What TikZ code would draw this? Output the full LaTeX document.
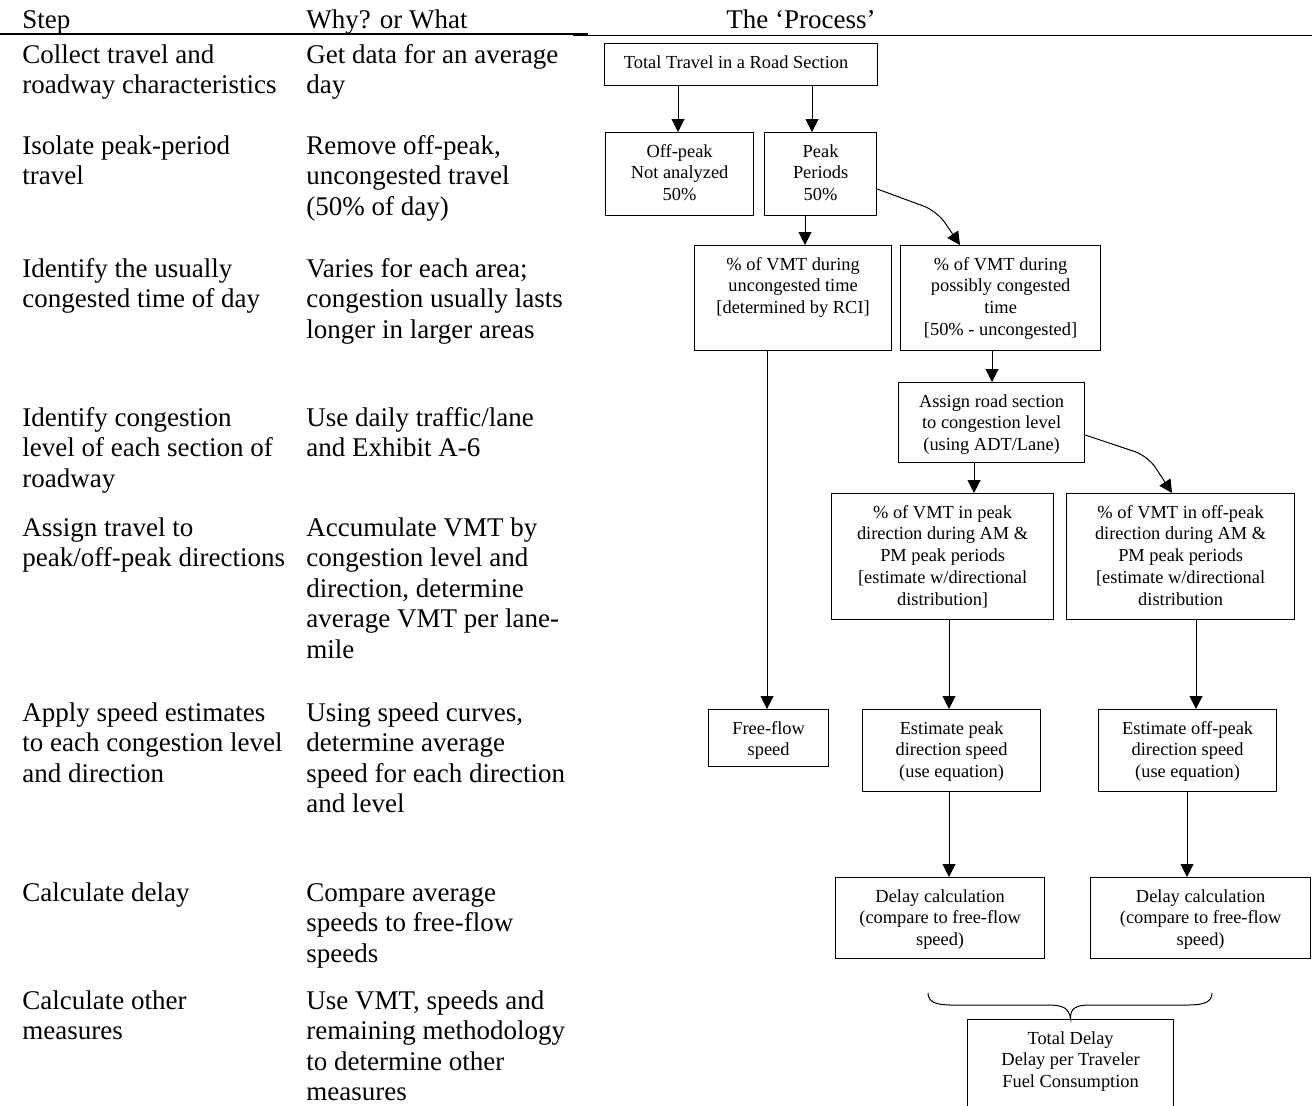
\documentclass[tikz,border=0pt]{standalone}
\usepackage{fontspec}
\setmainfont{Liberation Serif}
\usetikzlibrary{arrows.meta,calc}
\newcommand\bfnt{\fontsize{9.2}{10.85}\selectfont}
\newcommand\tfnt{\fontsize{13.5}{15.3}\selectfont}
\newcommand\bxt[3]{\begin{minipage}[c][#2][t]{#1}\centering\bfnt\rule{0pt}{12.3pt}#3\end{minipage}}
\newcommand\ltx[1]{\begin{minipage}[t]{150pt}\raggedright\tfnt #1\end{minipage}}
\tikzset{
  bx/.style={draw, line width=0.6pt, inner sep=0pt, anchor=north west},
  lt/.style={inner sep=0pt, anchor=base west},
  arr/.style={line width=0.5pt, -{Triangle[length=6.5pt,width=6.5pt]}},
  ln/.style={line width=0.5pt}
}
\begin{document}
\begin{tikzpicture}[x=0.5pt,y=-0.5pt]
\useasboundingbox (0,0) rectangle (1312,1105);
\clip (0,0) rectangle (1312,1105);
% header
\node[lt] (h1) at (22,28) {\tfnt Step};
\node[lt] (h2) at (306,28) {\tfnt Why? or What};
\node[inner sep=0pt, anchor=base] (h3) at (801,28) {\tfnt The ‘Process’};
\draw[line width=1pt] (0,34) -- (588,34);
\draw[line width=0.75pt] (573,35.5) -- (1312,35.5);
% left column
\node[lt] (s1) at (22,63) {\ltx{Collect travel and\\roadway characteristics}};
\node[lt] (s2) at (22,154) {\ltx{Isolate peak-period\\travel}};
\node[lt] (s3) at (22,277) {\ltx{Identify the usually\\congested time of day}};
\node[lt] (s4) at (22,426) {\ltx{Identify congestion\\level of each section of\\roadway}};
\node[lt] (s5) at (22,536) {\ltx{Assign travel to\\peak/off-peak directions}};
\node[lt] (s6) at (22,721) {\ltx{Apply speed estimates\\to each congestion level\\and direction}};
\node[lt] (s7) at (22,901) {\ltx{Calculate delay}};
\node[lt] (s8) at (22,1009) {\ltx{Calculate other\\measures}};
% middle column
\node[lt] (w1) at (306,63) {\ltx{Get data for an average\\day}};
\node[lt] (w2) at (306,154) {\ltx{Remove off-peak,\\uncongested travel\\(50\% of day)}};
\node[lt] (w3) at (306,277) {\ltx{Varies for each area;\\congestion usually lasts\\longer in larger areas}};
\node[lt] (w4) at (306,426) {\ltx{Use daily traffic/lane\\and Exhibit A-6}};
\node[lt] (w5) at (306,536) {\ltx{Accumulate VMT by\\congestion level and\\direction, determine\\average VMT per lane-\\mile}};
\node[lt] (w6) at (306,721) {\ltx{Using speed curves,\\determine average\\speed for each direction\\and level}};
\node[lt] (w7) at (306,901) {\ltx{Compare average\\speeds to free-flow\\speeds}};
\node[lt] (w8) at (306,1009) {\ltx{Use VMT, speeds and\\remaining methodology\\to determine other\\measures}};
% boxes
\node[bx] (total) at (604,43) {\bxt{136.5pt}{21pt}{\hspace*{-5pt}Total Travel in a Road Section}};
\node[bx] (offpeak) at (605,132) {\bxt{74pt}{41.5pt}{Off-peak\\Not analyzed\\50\%}};
\node[bx] (peak) at (764,132) {\bxt{56pt}{41.5pt}{Peak\\Periods\\50\%}};
\node[bx] (uncong) at (694,245) {\bxt{98.5pt}{52.5pt}{\% of VMT during\\uncongested time\\{[determined by RCI]}}};
\node[bx] (poss) at (900,245) {\bxt{100pt}{52.5pt}{\% of VMT during\\possibly congested\\time\\{[50\% - uncongested]}}};
\node[bx] (assign) at (898,382) {\bxt{93pt}{40pt}{Assign road section\\to congestion level\\(using ADT/Lane)}};
\node[bx] (peakdir) at (831,493) {\bxt{111pt}{63pt}{\% of VMT in peak\\direction during AM \&\\PM peak periods\\{[estimate w/directional}\\distribution]}};
\node[bx] (offdir) at (1066,493) {\bxt{114pt}{63pt}{\% of VMT in off-peak\\direction during AM \&\\PM peak periods\\{[estimate w/directional}\\distribution}};
\node[bx] (free) at (708,709) {\bxt{60pt}{28.5pt}{Free-flow\\speed}};
\node[bx] (estpeak) at (862,709) {\bxt{89pt}{41pt}{Estimate peak\\direction speed\\(use equation)}};
\node[bx] (estoff) at (1098,709) {\bxt{89pt}{41pt}{Estimate off-peak\\direction speed\\(use equation)}};
\node[bx] (delay1) at (835,877) {\bxt{104.5pt}{40.5pt}{Delay calculation\\(compare to free-flow\\speed)}};
\node[bx] (delay2) at (1090,877) {\bxt{110pt}{40.5pt}{Delay calculation\\(compare to free-flow\\speed)}};
\node[bx] (totdelay) at (967,1019) {\bxt{103pt}{50pt}{Total Delay\\Delay per Traveler\\Fuel Consumption}};
% connector x positions
\coordinate (xa) at (678,0);
\coordinate (xb) at (812,0);
\coordinate (xc) at (805,0);
\coordinate (xd) at (767,0);
\coordinate (xe) at (992,0);
\coordinate (xf) at (974,0);
\coordinate (xg) at (949,0);
\coordinate (xh) at (1196,0);
\coordinate (xi) at (1187,0);
% connectors
\draw[arr] (total.south -| xa) -- (offpeak.north -| xa);
\draw[arr] (total.south -| xb) -- (peak.north -| xb);
\draw[arr] (peak.south -| xc) -- (uncong.north -| xc);
\draw[arr, rounded corners=7pt] ($(peak.north east)+(0,57)$) -- (937,211) -- ($(poss.north west)+(60,0)$);
\draw[arr] (uncong.south -| xd) -- (free.north -| xd);
\draw[arr] (poss.south -| xe) -- (assign.north -| xe);
\draw[arr] (assign.south -| xf) -- (peakdir.north -| xf);
\draw[arr, rounded corners=7pt] ($(assign.north east)+(0,53)$) -- (1148,456) -- ($(offdir.north west)+(106,0)$);
\draw[arr] (peakdir.south -| xg) -- (estpeak.north -| xg);
\draw[arr] (offdir.south -| xh) -- (estoff.north -| xh);
\draw[arr] (estpeak.south -| xg) -- (delay1.north -| xg);
\draw[arr] (estoff.south -| xi) -- (delay2.north -| xi);
% brace
\draw[ln] (928,993) .. controls (928,1002) and (936,1005) .. (952,1005) -- (1048,1005) .. controls (1063,1005) and (1069,1008) .. (totdelay.north) .. controls (1070,1008) and (1076,1005) .. (1090,1005) -- (1188,1005) .. controls (1204,1005) and (1212,1002) .. (1212,993);
\end{tikzpicture}
\end{document}
